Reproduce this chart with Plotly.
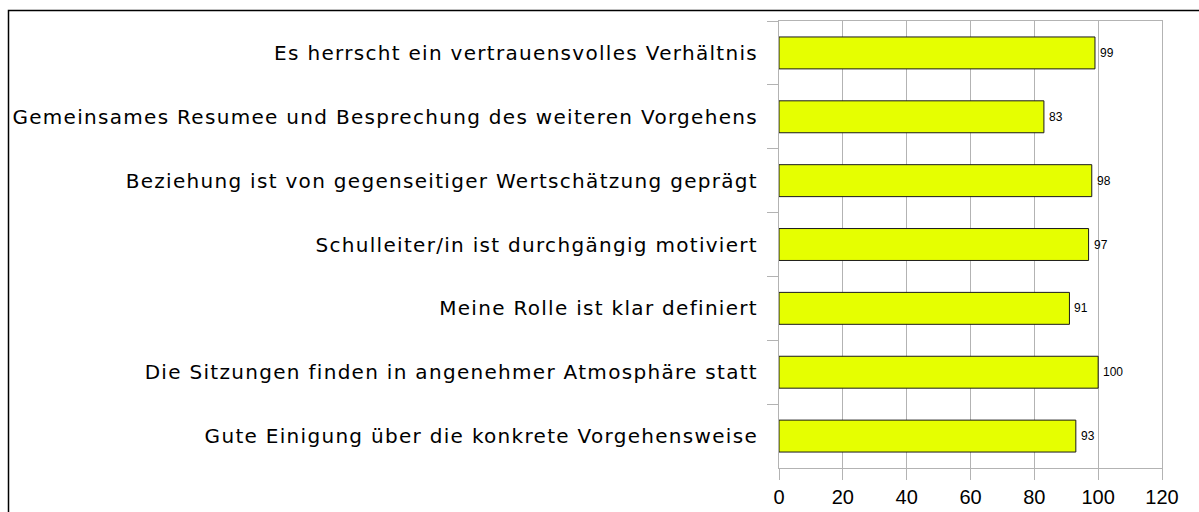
import plotly.graph_objects as go

categories = [
    "Es herrscht ein vertrauensvolles Verhältnis",
    "Gemeinsames Resumee und Besprechung des weiteren Vorgehens",
    "Beziehung ist von gegenseitiger Wertschätzung geprägt",
    "Schulleiter/in ist durchgängig motiviert",
    "Meine Rolle ist klar definiert",
    "Die Sitzungen finden in angenehmer Atmosphäre statt",
    "Gute Einigung über die konkrete Vorgehensweise",
]
values = [99, 83, 98, 97, 91, 100, 93]
x_ticks = [0, 20, 40, 60, 80, 100, 120]

W, H = 1199, 512
ML, MR, MT, MB = 779, 37, 21, 44
pw, ph = W - ML - MR, H - MT - MB

fig = go.Figure()
fig.add_trace(go.Bar(
    x=values, y=categories, orientation="h",
    marker=dict(color="#e6ff00", line=dict(color="#1a1a1a", width=1)),
    width=0.5, hoverinfo="x+y",
))

for v, c in zip(values, categories):
    fig.add_annotation(x=v, y=c, text=str(v), showarrow=False, xanchor="left",
                       xshift=3, font=dict(family="Liberation Sans", size=12, color="#000"))

grid = "#b3b3b3"
fig.update_layout(
    width=W, height=H,
    margin=dict(l=ML, r=MR, t=MT, b=MB, pad=0, autoexpand=False),
    paper_bgcolor="white", plot_bgcolor="white",
    showlegend=False,
    xaxis=dict(range=[0, 120], tickvals=x_ticks, showgrid=True, gridcolor=grid, gridwidth=1,
               showline=True, mirror=True, linecolor=grid, linewidth=1,
               ticks="outside", ticklen=11, tickcolor=grid, automargin=False,
               tickfont=dict(family="Liberation Sans", size=20, color="#000"),
               zeroline=False, fixedrange=True),
    yaxis=dict(categoryorder="array", categoryarray=categories, autorange="reversed",
               showgrid=False, showline=True, mirror=True, linecolor=grid, linewidth=1,
               ticks="outside", ticklen=11, tickcolor=grid, tickson="boundaries",
               ticklabelstandoff=16, automargin=False,
               tickfont=dict(family="DejaVu Sans", size=20, color="#000"), fixedrange=True),
    shapes=[dict(type="rect", xref="paper", yref="paper",
                 x0=(8.5 - ML) / pw, x1=(W + 20 - ML) / pw,
                 y0=-(H + 20 - MT - ph) / ph, y1=1 + (MT - 10.5) / ph,
                 line=dict(color="black", width=1.5), fillcolor="rgba(0,0,0,0)", layer="below")],
)

post = ("var s=document.createElement('style');"
        "s.textContent='html,body{margin:0;padding:0;overflow:hidden}.ytick text{letter-spacing:1.3px}';"
        "document.head.appendChild(s);")
fig.write_html("out.html", post_script=post, config={"displayModeBar": False})
